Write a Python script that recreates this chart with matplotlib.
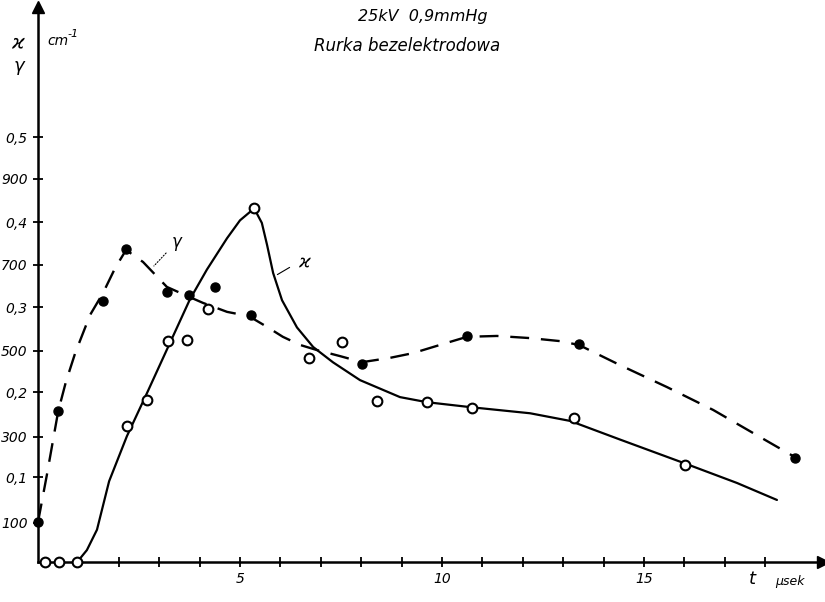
import matplotlib
matplotlib.use("Agg")
import matplotlib.pyplot as plt

# open circles: absorption coefficient kappa [cm^-1]
t_kappa = [0.17, 0.52, 0.97, 2.20, 2.70, 3.22, 3.69, 4.21, 5.35, 6.71, 7.52,
           8.39, 9.63, 10.74, 13.27, 16.01]
kappa = [0.0, 0.0, 0.0, 0.160, 0.191, 0.260, 0.261, 0.298, 0.416, 0.240, 0.259,
         0.189, 0.188, 0.181, 0.169, 0.114]

# hand drawn kappa curve (solid)
t_kappa_line = [0.97, 1.21, 1.46, 1.76, 2.20, 2.70, 3.22, 3.76, 4.18, 4.68, 5.00,
                5.35, 5.54, 5.67, 5.82, 6.04, 6.41, 6.81, 7.30, 7.97, 8.96, 9.63,
                10.74, 12.18, 13.17, 14.41, 16.01, 17.30, 18.29]
kappa_line = [0.0, 0.014, 0.038, 0.095, 0.148, 0.199, 0.253, 0.309, 0.344, 0.381,
              0.402, 0.416, 0.399, 0.373, 0.340, 0.308, 0.276, 0.253, 0.235, 0.214,
              0.194, 0.188, 0.182, 0.175, 0.166, 0.144, 0.116, 0.093, 0.073]

# filled dots: gamma
t_gamma = [0.0, 0.50, 1.61, 2.18, 3.19, 3.74, 4.38, 5.27, 8.02, 10.62, 13.39, 18.74]
gamma = [102, 360, 616, 737, 637, 630, 649, 584, 470, 535, 516, 251]

# hand drawn gamma curve (dashed)
t_gamma_line = [0.0, 0.22, 0.50, 0.69, 0.92, 1.29, 1.61, 1.91, 2.18, 2.60, 3.19,
                3.69, 4.08, 4.68, 5.22, 5.67, 6.06, 6.49, 6.91, 7.48, 8.02, 8.71,
                9.28, 10.12, 10.62, 11.36, 12.18, 12.92, 13.39, 14.41, 15.57,
                16.71, 17.87, 18.74]
gamma_line = [102, 212, 360, 428, 495, 584, 635, 693, 735, 707, 649, 628, 612, 591,
              581, 556, 533, 514, 502, 488, 474, 484, 495, 519, 533, 535, 530, 523,
              514, 467, 416, 363, 300, 253]

x_ticks = list(range(1, 19))
x_labels = ["5" if v == 5 else "10" if v == 10 else "15" if v == 15 else "" for v in x_ticks]
kappa_ticks = [0.1, 0.2, 0.3, 0.4, 0.5]
kappa_labels = ["0,1", "0,2", "0,3", "0,4", "0,5"]
gamma_ticks = [100, 300, 500, 700, 900]
gamma_labels = ["100", "300", "500", "700", "900"]

W, H = 825, 602
fig = plt.figure(figsize=(W / 100, H / 100), dpi=100)
ax = fig.add_axes([38 / W, 40 / H, 785 / W, 555 / H])
ax2 = ax.twinx()

ax.set_xlim(0, 19.43)
ax.set_ylim(0, 0.653)
ax2.set_ylim(9.3, 1300)

# curves
ax.plot(t_kappa_line, kappa_line, color="black", lw=1.6, solid_capstyle="round")
ax2.plot(t_gamma_line, gamma_line, color="black", lw=1.7, dashes=(8, 5))

# points
ax.plot(t_kappa, kappa, "o", ms=7, mfc="white", mec="black", mew=1.5,
        clip_on=False, zorder=5)
ax2.plot(t_gamma, gamma, "o", ms=6.5, color="black", clip_on=False, zorder=5)

# axes look
for side in ["top", "right"]:
    ax.spines[side].set_visible(False)
for side in ["top", "right", "left", "bottom"]:
    ax2.spines[side].set_visible(False)
ax.spines["left"].set_linewidth(1.8)
ax.spines["bottom"].set_linewidth(1.8)
ax.plot(1, 0, ">", color="black", ms=8, transform=ax.transAxes, clip_on=False)
ax.plot(0, 1, "^", color="black", ms=8, transform=ax.transAxes, clip_on=False)

ax.set_xticks(x_ticks)
ax.set_xticklabels(x_labels, fontsize=10, style="italic")
ax.tick_params(axis="x", direction="inout", length=7, width=1.3, pad=4)

ax.set_yticks(kappa_ticks)
ax.set_yticklabels(kappa_labels, fontsize=10, style="italic")
ax.tick_params(axis="y", direction="inout", length=7, width=1.3, pad=4)

ax2.yaxis.tick_left()
ax2.set_yticks(gamma_ticks)
ax2.set_yticklabels(gamma_labels, fontsize=10, style="italic")
ax2.tick_params(axis="y", direction="inout", length=7, width=1.3, pad=4)


def px_text(x, y, s, **kw):
    fig.text(x / W, 1 - y / H, s, style="italic", va="center", **kw)


# titles
px_text(423, 16, "25kV  0,9mmHg", fontsize=11.5, ha="center")
px_text(407, 46, "Rurka bezelektrodowa", fontsize=12, ha="center")

# axis labels
px_text(18, 42, "ϰ", fontsize=14, ha="center")
px_text(47, 41, "cm", fontsize=10, ha="left")
px_text(68, 34, "-1", fontsize=8, ha="left")
px_text(19, 66, "γ", fontsize=13, ha="center")
px_text(752, 579, "t", fontsize=13, ha="center")
px_text(790, 581, "μsek", fontsize=9, ha="center")

# curve labels with leader lines
px_text(177, 242, "γ", fontsize=12, ha="center")
ax.annotate("", xy=(152 / W, 1 - 268 / H), xytext=(168 / W, 1 - 251 / H),
            xycoords="figure fraction", textcoords="figure fraction",
            arrowprops=dict(arrowstyle="-", lw=0.8, ls=":", color="black"))
px_text(304, 262, "ϰ", fontsize=13, ha="center")
ax.annotate("", xy=(275 / W, 1 - 276 / H), xytext=(292 / W, 1 - 266 / H),
            xycoords="figure fraction", textcoords="figure fraction",
            arrowprops=dict(arrowstyle="-", lw=0.8, color="black"))

fig.savefig("out.png", dpi=100)
